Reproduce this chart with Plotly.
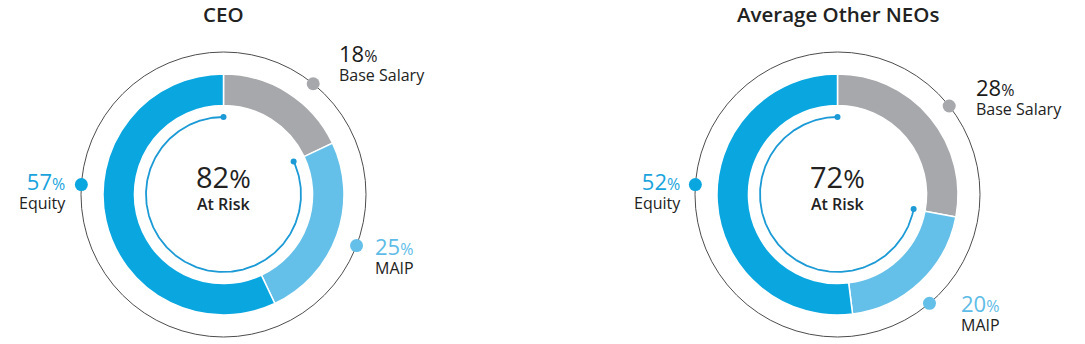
import numpy as np
import plotly.graph_objects as go

# ---- data -------------------------------------------------------------
components = ["Base Salary", "MAIP", "Equity"]
ceo_pct = [18, 25, 57]
neo_pct = [28, 20, 52]
at_risk_parts = ["MAIP", "Equity"]
panel_titles = ["CEO", "Average Other NEOs"]

# ---- styling ----------------------------------------------------------
W, H = 1085, 344
FONT = "Open Sans"
slice_colors = ["#a7a8ab", "#65c0e9", "#0aa6e0"]
pct_colors = ["#1a1a1a", "#5dbce7", "#18a3dd"]
arc_color = "#1b9ad6"
ring_color = "#4d4d4d"
text_color = "#222222"

R_OUT = 120.5      # donut outer radius (px)
HOLE = 0.739       # donut hole fraction
R_ARC = 77.5       # inner "at risk" arc radius
R_RING = 142.5     # thin outer guide circle

# per-panel layout: centre, guide-dot angles (deg clockwise from 12 o'clock),
# and label anchor (x, baseline of the name line, side)
panels = [
    dict(title=panel_titles[0], values=ceo_pct, cx=223.5, cy=194.5,
         dot_deg=[39, 111, 274],
         labels=[(337, 80, "left"), (373, 273, "left"), (68, 208, "right")]),
    dict(title=panel_titles[1], values=neo_pct, cx=837.5, cy=194.5,
         dot_deg=[51.6, 139.8, 274],
         labels=[(974, 114, "left"), (959, 330, "left"), (682.7, 208, "right")]),
]

fig = go.Figure()
annotations = []
shapes = []

for p in panels:
    cx, cy, vals = p["cx"], p["cy"], p["values"]

    # donut
    fig.add_trace(go.Pie(
        labels=components, values=vals, sort=False, direction="clockwise",
        rotation=0, hole=HOLE, textinfo="none", hoverinfo="label+percent",
        marker=dict(colors=slice_colors, line=dict(color="white", width=1.5)),
        domain=dict(x=[(cx - R_OUT) / W, (cx + R_OUT) / W],
                    y=[(H - cy - R_OUT) / H, (H - cy + R_OUT) / H]),
        showlegend=False,
    ))

    # thin guide circle
    shapes.append(dict(type="circle", xref="x", yref="y", layer="below",
                       x0=cx - R_RING, x1=cx + R_RING, y0=cy - R_RING, y1=cy + R_RING,
                       line=dict(color=ring_color, width=1)))

    # at-risk arc (counter-clockwise from 12 o'clock)
    at_risk = sum(v for c, v in zip(components, vals) if c in at_risk_parts)
    t = np.linspace(0, at_risk / 100 * 2 * np.pi, 300)
    ax = cx - R_ARC * np.sin(t)
    ay = cy - R_ARC * np.cos(t)
    fig.add_trace(go.Scatter(x=ax, y=ay, mode="lines", hoverinfo="skip",
                             line=dict(color=arc_color, width=1.8), showlegend=False))
    fig.add_trace(go.Scatter(x=[ax[0], ax[-1]], y=[ay[0], ay[-1]], mode="markers",
                             hoverinfo="skip", marker=dict(color=arc_color, size=6),
                             showlegend=False))

    # guide dots on the outer circle
    a = np.radians(p["dot_deg"])
    fig.add_trace(go.Scatter(x=cx + R_RING * np.sin(a), y=cy - R_RING * np.cos(a),
                             mode="markers", hoverinfo="skip", showlegend=False,
                             marker=dict(color=slice_colors, size=13)))

    # component labels: big percentage over the component name
    for comp, v, pc, (lx, base_y, side) in zip(components, vals, pct_colors, p["labels"]):
        txt = (f"<span style='font-size:22px;color:{pc}'>{v}</span>"
               f"<span style='font-size:16px;color:{pc}'>%</span><br>"
               f"<span style='font-size:16px'>{comp}</span>")
        annotations.append(dict(
            x=lx, y=base_y + 8, xref="x", yref="y", xanchor=side, yanchor="bottom",
            align=side, showarrow=False, text=txt,
            font=dict(family=FONT, size=14.5, color=text_color)))

    # centre text
    annotations.append(dict(
        x=cx, y=217, xref="x", yref="y", xanchor="center", yanchor="bottom",
        align="center", showarrow=False,
        text=(f"<span style='font-size:29px'>{at_risk}</span>"
              f"<span style='font-size:26px'>%</span><br>"
              f"<span style='font-size:16px;font-weight:600'>At Risk</span>"),
        font=dict(family=FONT, size=17, color=text_color)))

    # panel title
    annotations.append(dict(
        x=cx, y=14, xref="x", yref="y", xanchor="center", yanchor="middle",
        showarrow=False, text=p["title"],
        font=dict(family=FONT, size=20.5, color=text_color, weight=600)))

fig.update_layout(
    width=W, height=H, margin=dict(l=0, r=0, t=0, b=0),
    paper_bgcolor="white", plot_bgcolor="white",
    xaxis=dict(range=[0, W], visible=False, fixedrange=True),
    yaxis=dict(range=[H, 0], visible=False, fixedrange=True),
    shapes=shapes, annotations=annotations, showlegend=False,
)

fig.write_html("out.html")
